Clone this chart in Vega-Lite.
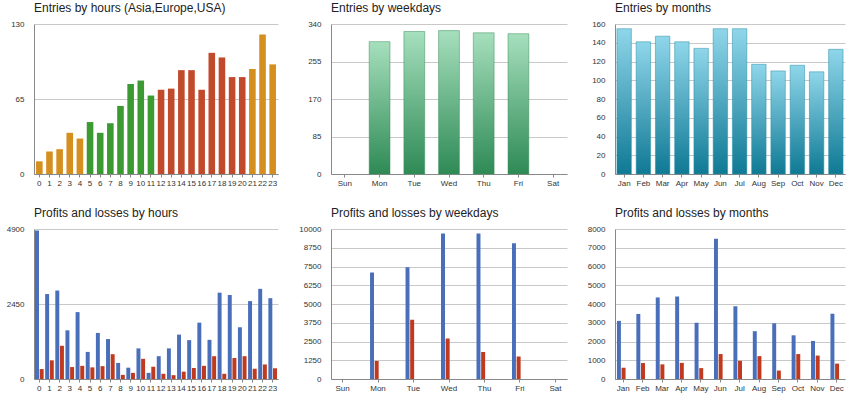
{
  "$schema": "https://vega.github.io/schema/vega-lite/v6.json",
  "background": "white",
  "padding": {"left": 6, "top": 2, "right": 4, "bottom": 2},
  "resolve": {"scale": {"color": "independent"}},
  "config": {
    "font": "Liberation Sans",
    "view": {"stroke": null},
    "title": {"fontSize": 12, "fontWeight": "normal", "anchor": "start", "frame": "group", "color": "#222", "offset": 5},
    "axis": {"labelFontSize": 8, "labelColor": "#333", "title": null, "domainColor": "#888", "tickColor": "#888", "gridColor": "#c8c8c8", "gridWidth": 1},
    "axisX": {"labelAngle": 0, "ticks": true, "tickSize": 3, "labelPadding": 2},
    "axisY": {"domain": true, "ticks": false, "labelPadding": 10, "format": "d"},
    "concat": {"spacing": 20}
  },
  "datasets": {
    "hours": [
      {"h": 0, "v": 11, "g": "asia"}, {"h": 1, "v": 19.5, "g": "asia"}, {"h": 2, "v": 21.5, "g": "asia"}, {"h": 3, "v": 35.7, "g": "asia"}, {"h": 4, "v": 30.7, "g": "asia"},
      {"h": 5, "v": 45, "g": "eu"}, {"h": 6, "v": 35.7, "g": "eu"}, {"h": 7, "v": 44, "g": "eu"}, {"h": 8, "v": 59, "g": "eu"}, {"h": 9, "v": 78, "g": "eu"}, {"h": 10, "v": 81, "g": "eu"}, {"h": 11, "v": 68, "g": "eu"},
      {"h": 12, "v": 73, "g": "us"}, {"h": 13, "v": 74, "g": "us"}, {"h": 14, "v": 90, "g": "us"}, {"h": 15, "v": 90, "g": "us"}, {"h": 16, "v": 73, "g": "us"}, {"h": 17, "v": 105, "g": "us"}, {"h": 18, "v": 101, "g": "us"}, {"h": 19, "v": 84, "g": "us"}, {"h": 20, "v": 84, "g": "us"},
      {"h": 21, "v": 91, "g": "asia"}, {"h": 22, "v": 121, "g": "asia"}, {"h": 23, "v": 95, "g": "asia"}
    ],
    "weekdays": [
      {"d": "Mon", "v": 300}, {"d": "Tue", "v": 323}, {"d": "Wed", "v": 325}, {"d": "Thu", "v": 320}, {"d": "Fri", "v": 318}
    ],
    "months": [
      {"m": "Jan", "v": 155}, {"m": "Feb", "v": 141}, {"m": "Mar", "v": 147}, {"m": "Apr", "v": 141}, {"m": "May", "v": 134}, {"m": "Jun", "v": 155},
      {"m": "Jul", "v": 155}, {"m": "Aug", "v": 117}, {"m": "Sep", "v": 110}, {"m": "Oct", "v": 116}, {"m": "Nov", "v": 109}, {"m": "Dec", "v": 133}
    ],
    "plHours": [
      {"h": 0, "p": 4850, "l": 325}, {"h": 1, "p": 2775, "l": 610}, {"h": 2, "p": 2890, "l": 1085}, {"h": 3, "p": 1590, "l": 390},
      {"h": 4, "p": 2185, "l": 430}, {"h": 5, "p": 885, "l": 380}, {"h": 6, "p": 1505, "l": 420}, {"h": 7, "p": 1305, "l": 810},
      {"h": 8, "p": 525, "l": 135}, {"h": 9, "p": 370, "l": 200}, {"h": 10, "p": 1000, "l": 660}, {"h": 11, "p": 200, "l": 400},
      {"h": 12, "p": 745, "l": 170}, {"h": 13, "p": 1000, "l": 125}, {"h": 14, "p": 1450, "l": 240}, {"h": 15, "p": 1270, "l": 360},
      {"h": 16, "p": 1840, "l": 430}, {"h": 17, "p": 1280, "l": 745}, {"h": 18, "p": 2820, "l": 170}, {"h": 19, "p": 2745, "l": 685},
      {"h": 20, "p": 1690, "l": 745}, {"h": 21, "p": 2545, "l": 335}, {"h": 22, "p": 2945, "l": 475}, {"h": 23, "p": 2640, "l": 350}
    ],
    "plWeekdays": [
      {"d": "Mon", "p": 7100, "l": 1200}, {"d": "Tue", "p": 7450, "l": 3950}, {"d": "Wed", "p": 9700, "l": 2700},
      {"d": "Thu", "p": 9700, "l": 1800}, {"d": "Fri", "p": 9050, "l": 1500}
    ],
    "plMonths": [
      {"m": "Jan", "p": 3100, "l": 600}, {"m": "Feb", "p": 3470, "l": 850}, {"m": "Mar", "p": 4350, "l": 780}, {"m": "Apr", "p": 4400, "l": 860},
      {"m": "May", "p": 3000, "l": 580}, {"m": "Jun", "p": 7480, "l": 1330}, {"m": "Jul", "p": 3880, "l": 970}, {"m": "Aug", "p": 2550, "l": 1220},
      {"m": "Sep", "p": 2970, "l": 450}, {"m": "Oct", "p": 2330, "l": 1330}, {"m": "Nov", "p": 2030, "l": 1250}, {"m": "Dec", "p": 3480, "l": 820}
    ]
  },
  "columns": 3,
  "concat": [
    {
      "title": "Entries by hours (Asia,Europe,USA)",
      "width": 244, "height": 150,
      "data": {"name": "hours"},
      "mark": {"type": "bar"},
      "encoding": {
        "x": {"field": "h", "type": "ordinal", "scale": {"paddingInner": 0.35, "paddingOuter": 0.2}},
        "y": {"field": "v", "type": "quantitative", "scale": {"domain": [0, 130]}, "axis": {"values": [0, 65, 130]}},
        "color": {"field": "g", "type": "nominal", "legend": null, "scale": {"domain": ["asia", "eu", "us"], "range": ["#d58f1e", "#3c9a32", "#c24a2c"]}}
      }
    },
    {
      "title": "Entries by weekdays",
      "width": 236, "height": 150,
      "data": {"name": "weekdays"},
      "mark": {"type": "bar", "stroke": "#3c8f5c", "strokeWidth": 0.5, "fill": {"x1": 0, "y1": 0, "x2": 0, "y2": 1, "gradient": "linear", "stops": [{"offset": 0, "color": "#a6dfbd"}, {"offset": 1, "color": "#2e8a55"}]}},
      "encoding": {
        "x": {"field": "d", "type": "ordinal", "sort": null, "scale": {"domain": ["Sun", "Mon", "Tue", "Wed", "Thu", "Fri", "Sat"], "paddingInner": 0.4, "paddingOuter": 0.1}},
        "y": {"field": "v", "type": "quantitative", "scale": {"domain": [0, 340]}, "axis": {"values": [0, 85, 170, 255, 340]}}
      }
    },
    {
      "title": "Entries by months",
      "width": 230, "height": 150,
      "data": {"name": "months"},
      "mark": {"type": "bar", "stroke": "#2b8ca6", "strokeWidth": 0.5, "fill": {"x1": 0, "y1": 0, "x2": 0, "y2": 1, "gradient": "linear", "stops": [{"offset": 0, "color": "#8fd6ea"}, {"offset": 1, "color": "#0f7994"}]}},
      "encoding": {
        "x": {"field": "m", "type": "ordinal", "sort": null, "scale": {"paddingInner": 0.25, "paddingOuter": 0.1}},
        "y": {"field": "v", "type": "quantitative", "scale": {"domain": [0, 160]}, "axis": {"values": [0, 20, 40, 60, 80, 100, 120, 140, 160]}}
      }
    },
    {
      "title": "Profits and losses by hours",
      "width": 244, "height": 150,
      "data": {"name": "plHours"},
      "transform": [{"fold": ["p", "l"], "as": ["k", "val"]}],
      "mark": {"type": "bar"},
      "encoding": {
        "x": {"field": "h", "type": "ordinal", "scale": {"paddingInner": 0.15, "paddingOuter": 0.1}},
        "xOffset": {"field": "k", "sort": ["p", "l"], "scale": {"paddingInner": 0.15}},
        "y": {"field": "val", "type": "quantitative", "scale": {"domain": [0, 4900]}, "axis": {"values": [0, 2450, 4900]}},
        "color": {"field": "k", "type": "nominal", "legend": null, "scale": {"domain": ["p", "l"], "range": ["#4a6fba", "#bf3a1e"]}}
      }
    },
    {
      "title": "Profits and losses by weekdays",
      "width": 236, "height": 150,
      "data": {"name": "plWeekdays"},
      "transform": [{"fold": ["p", "l"], "as": ["k", "val"]}],
      "mark": {"type": "bar"},
      "encoding": {
        "x": {"field": "d", "type": "ordinal", "sort": null, "scale": {"domain": ["Sun", "Mon", "Tue", "Wed", "Thu", "Fri", "Sat"], "paddingInner": 0.55, "paddingOuter": 0.1}},
        "xOffset": {"field": "k", "sort": ["p", "l"], "scale": {"paddingInner": 0.2}},
        "y": {"field": "val", "type": "quantitative", "scale": {"domain": [0, 10000]}, "axis": {"values": [0, 1250, 2500, 3750, 5000, 6250, 7500, 8750, 10000]}},
        "color": {"field": "k", "type": "nominal", "legend": null, "scale": {"domain": ["p", "l"], "range": ["#4a6fba", "#bf3a1e"]}}
      }
    },
    {
      "title": "Profits and losses by months",
      "width": 230, "height": 150,
      "data": {"name": "plMonths"},
      "transform": [{"fold": ["p", "l"], "as": ["k", "val"]}],
      "mark": {"type": "bar"},
      "encoding": {
        "x": {"field": "m", "type": "ordinal", "sort": null, "scale": {"paddingInner": 0.35, "paddingOuter": 0.1}},
        "xOffset": {"field": "k", "sort": ["p", "l"], "scale": {"paddingInner": 0.3}},
        "y": {"field": "val", "type": "quantitative", "scale": {"domain": [0, 8000]}, "axis": {"values": [0, 1000, 2000, 3000, 4000, 5000, 6000, 7000, 8000]}},
        "color": {"field": "k", "type": "nominal", "legend": null, "scale": {"domain": ["p", "l"], "range": ["#4a6fba", "#bf3a1e"]}}
      }
    }
  ]
}
